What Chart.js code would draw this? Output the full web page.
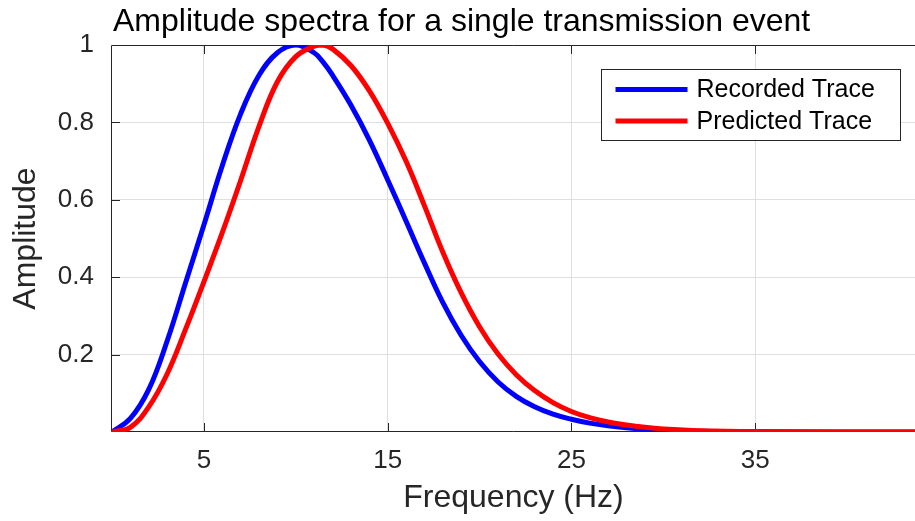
<!DOCTYPE html>
<html>
<head>
<meta charset="utf-8">
<script src="https://cdn.jsdelivr.net/npm/chart.js@4/dist/chart.umd.min.js"></script>
<style>
	html, body { margin: 0; padding: 0; background: #fff; overflow: hidden; }
</style>
</head>
<body>
<canvas id="chart-spectra" width="915" height="521"></canvas>
<script>
var title_text = 'Amplitude spectra for a single transmission event';
var series_labels = ['Recorded Trace', 'Predicted Trace'];
var series_colors = ['rgb(0, 0, 255)', 'rgb(255, 0, 0)'];
var x_ticks = [5, 15, 25, 35];
var y_ticks = [0.2, 0.4, 0.6, 0.8, 1];

// frequency samples (Hz)
var freqs = [0, 1, 2, 3, 4, 5, 6, 7, 8, 9, 10, 11, 11.5, 12, 13, 14, 15, 16, 17, 18, 19, 20,
	21, 22, 23, 24, 25, 26, 27, 28, 29, 30, 32, 35, 40, 44];
var recorded = [0, 0.035, 0.11, 0.235, 0.385, 0.535, 0.688, 0.822, 0.922, 0.98, 1.0, 0.98, 0.955, 0.922, 0.845, 0.755, 0.652, 0.545, 0.437, 0.335, 0.25, 0.182,
	0.13, 0.092, 0.065, 0.046, 0.033, 0.023, 0.016, 0.011, 0.0075, 0.005, 0.002, 0.0005, 0, 0];
var predicted = [0, 0.012, 0.065, 0.15, 0.265, 0.388, 0.515, 0.65, 0.79, 0.905, 0.97, 0.997, 1.0, 0.99, 0.947, 0.882, 0.798, 0.7, 0.585, 0.465, 0.36, 0.272,
	0.202, 0.148, 0.107, 0.076, 0.053, 0.037, 0.026, 0.018, 0.012, 0.008, 0.0035, 0.001, 0.0002, 0];

var font_family = "'Liberation Sans', Arial, Helvetica, sans-serif";
var text_color = '#262626';
var axis_color = '#262626';

function to_points(ys) {
	var pts = [];
	for (var i = 0; i < freqs.length; i++) {
		pts.push({x: freqs[i], y: ys[i]});
	}
	return pts;
}

/* frame, inward ticks, title and legend in MATLAB style */
var matlab_axes = {
	id: 'matlab_axes',
	beforeDatasetsDraw: function (chart) {
		var ctx = chart.ctx;
		var a = chart.chartArea;
		var xs = chart.scales.x;
		var ys = chart.scales.y;
		ctx.save();
		ctx.strokeStyle = axis_color;
		ctx.lineWidth = 1;
		ctx.beginPath();
		ctx.moveTo(a.left - 0.5, a.bottom - 0.5);
		ctx.lineTo(a.left - 0.5, a.top + 0.5);
		ctx.lineTo(a.right, a.top + 0.5);
		ctx.moveTo(a.left - 0.5, a.bottom - 0.5);
		ctx.lineTo(a.right, a.bottom - 0.5);
		x_ticks.forEach(function (v) {
			var px = Math.round(xs.getPixelForValue(v)) + 0.5;
			ctx.moveTo(px, a.bottom);
			ctx.lineTo(px, a.bottom - 9);
			ctx.moveTo(px, a.top);
			ctx.lineTo(px, a.top + 9);
		});
		y_ticks.forEach(function (v) {
			var py = Math.round(ys.getPixelForValue(v)) + 0.5;
			ctx.moveTo(a.left, py);
			ctx.lineTo(a.left + 8, py);
		});
		ctx.stroke();
		ctx.restore();
	},
	afterDraw: function (chart) {
		var ctx = chart.ctx;
		var a = chart.chartArea;
		ctx.save();
		/* Title */
		ctx.fillStyle = '#000';
		ctx.font = '32px ' + font_family;
		ctx.textAlign = 'left';
		ctx.textBaseline = 'alphabetic';
		ctx.fillText(title_text, a.left + 1, 31);

		/* Legend */
		var bx = a.right - 313.5, by = a.top + 24.5, bw = 299, bh = 71;
		ctx.fillStyle = '#fff';
		ctx.fillRect(bx, by, bw, bh);
		ctx.strokeStyle = axis_color;
		ctx.lineWidth = 1;
		ctx.strokeRect(bx, by, bw, bh);
		ctx.font = '25px ' + font_family;
		ctx.textBaseline = 'middle';
		chart.data.datasets.forEach(function (ds, i) {
			var ly = by + 20 + i * 31.5;
			ctx.strokeStyle = ds.borderColor;
			ctx.lineWidth = 5;
			ctx.beginPath();
			ctx.moveTo(bx + 14, ly);
			ctx.lineTo(bx + 86, ly);
			ctx.stroke();
			ctx.fillStyle = '#000';
			ctx.fillText(ds.label, bx + 95, ly + 1);
		});
		ctx.restore();
	}
};

var ctx_spec = document.getElementById('chart-spectra').getContext('2d');
new Chart(ctx_spec, {
	type: 'line',
	data: {
		datasets: [{
			label: series_labels[0],
			data: to_points(recorded),
			borderColor: series_colors[0],
			borderWidth: 5,
			pointRadius: 0,
			fill: false,
			tension: 0.4,
			order: 2
		}, {
			label: series_labels[1],
			data: to_points(predicted),
			borderColor: series_colors[1],
			borderWidth: 5,
			pointRadius: 0,
			fill: false,
			tension: 0.4,
			order: 1
		}]
	},
	options: {
		responsive: false,
		animation: false,
		layout: {
			padding: {top: 45, right: 0, left: 0, bottom: 0}
		},
		plugins: {
			legend: {display: false},
			title: {display: false},
			tooltip: {enabled: false}
		},
		scales: {
			x: {
				type: 'linear',
				min: 0,
				max: 43.7,
				afterBuildTicks: function (scale) {
					scale.ticks = x_ticks.map(function (v) { return {value: v}; });
				},
				afterFit: function (scale) {
					scale.height = 89;
				},
				grid: {color: '#dfdfdf', lineWidth: 1, drawTicks: false},
				border: {display: false},
				ticks: {
					color: text_color,
					padding: 13,
					maxRotation: 0,
					font: {family: font_family, size: 26},
					callback: function (v) { return String(v); }
				},
				title: {
					display: true,
					text: 'Frequency (Hz)',
					color: text_color,
					padding: {top: 0, bottom: 4},
					font: {family: font_family, size: 32}
				}
			},
			y: {
				type: 'linear',
				min: 0,
				max: 1,
				afterBuildTicks: function (scale) {
					scale.ticks = y_ticks.map(function (v) { return {value: v}; });
				},
				afterFit: function (scale) {
					scale.width = 112;
				},
				grid: {color: '#dfdfdf', lineWidth: 1, drawTicks: false},
				border: {display: false},
				ticks: {
					color: text_color,
					padding: 18,
					font: {family: font_family, size: 26},
					callback: function (v) { return String(v); }
				},
				title: {
					display: true,
					text: 'Amplitude',
					color: text_color,
					padding: {top: 7, bottom: 0},
					font: {family: font_family, size: 32}
				}
			}
		}
	},
	plugins: [matlab_axes]
});
</script>
</body>
</html>
